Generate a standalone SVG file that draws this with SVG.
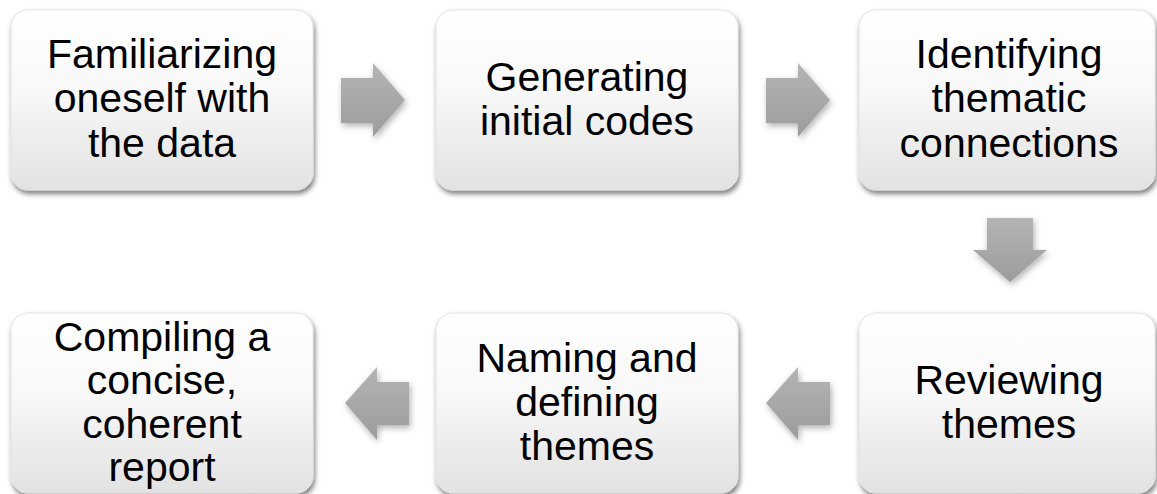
<svg xmlns="http://www.w3.org/2000/svg" width="1157" height="494" viewBox="0 0 1157 494">
<defs>
<linearGradient id="boxg" x1="0" y1="0" x2="0" y2="1">
<stop offset="0" stop-color="#ffffff"/>
<stop offset="0.45" stop-color="#f8f8f8"/>
<stop offset="1" stop-color="#e2e2e2"/>
</linearGradient>
<linearGradient id="arrg" x1="0" y1="0" x2="0" y2="1">
<stop offset="0" stop-color="#b4b4b4"/>
<stop offset="1" stop-color="#9c9c9c"/>
</linearGradient>
<filter id="sh" x="-10%" y="-10%" width="120%" height="130%">
<feDropShadow dx="1.5" dy="3.5" stdDeviation="2.5" flood-color="#000" flood-opacity="0.5"/>
</filter>
<filter id="ash" x="-30%" y="-30%" width="160%" height="160%">
<feDropShadow dx="1.5" dy="3" stdDeviation="3" flood-color="#000" flood-opacity="0.3"/>
</filter>
</defs>
<style>
.box{fill:url(#boxg);stroke:#e2e2e2;stroke-width:1;filter:url(#sh)}
.arr{fill:url(#arrg);filter:url(#ash)}
text{font-family:"Liberation Sans",Arial,sans-serif;font-size:41px;fill:#000;text-anchor:middle}
</style>
<rect width="1157" height="494" fill="#fff"/>
<g id="connectors">
<polygon class="arr" points="341,78 373,78 373,63 405,100 373,137 373,123 341,123"/>
<polygon class="arr" points="766,78 798,78 798,63 830,100 798,137 798,123 766,123"/>
<polygon class="arr" points="987,218 1033,218 1033,250 1047,250 1010,282 973,250 987,250"/>
<polygon class="arr" points="830,382 798,382 798,367 766,403 798,440 798,425 830,425"/>
<polygon class="arr" points="409,382 377,382 377,367 345,403 377,440 377,425 409,425"/>
</g>
<g id="n1">
<rect class="box" x="11" y="10" width="302" height="180" rx="17"/>
<text x="162" y="68">Familiarizing</text>
<text x="162" y="112">oneself with</text>
<text x="162" y="157">the data</text>
</g>
<g id="n2">
<rect class="box" x="436" y="10" width="302" height="180" rx="17"/>
<text x="587" y="91">Generating</text>
<text x="587" y="135">initial codes</text>
</g>
<g id="n3">
<rect class="box" x="859" y="10" width="296" height="180" rx="17"/>
<text x="1009" y="68">Identifying</text>
<text x="1009" y="112">thematic</text>
<text x="1009" y="157">connections</text>
</g>
<g id="n4">
<rect class="box" x="859" y="313" width="296" height="180" rx="17"/>
<text x="1009" y="394">Reviewing</text>
<text x="1009" y="438">themes</text>
</g>
<g id="n5">
<rect class="box" x="436" y="313" width="302" height="180" rx="17"/>
<text x="587" y="372">Naming and</text>
<text x="587" y="416">defining</text>
<text x="587" y="460">themes</text>
</g>
<g id="n6">
<rect class="box" x="11" y="313" width="302" height="180" rx="17"/>
<text x="162" y="351">Compiling a</text>
<text x="162" y="394">concise,</text>
<text x="162" y="438">coherent</text>
<text x="162" y="481">report</text>
</g>
</svg>
